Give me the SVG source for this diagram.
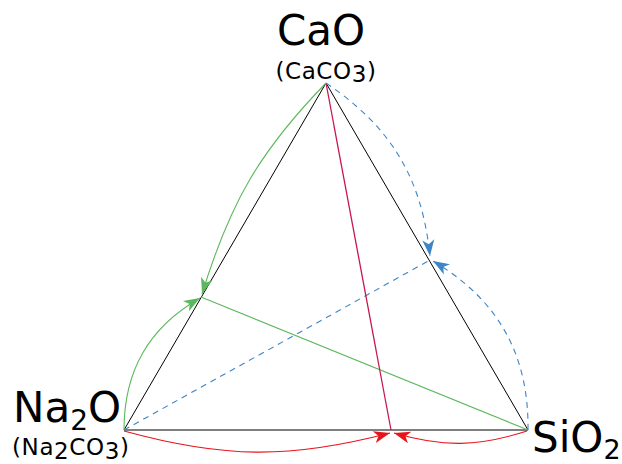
<svg xmlns="http://www.w3.org/2000/svg" width="622" height="464" viewBox="0 0 622 464">
<style>
.lbl{font-family:"DejaVu Sans","Liberation Sans",sans-serif;fill:#000}
.big{font-size:42px}
.small{font-size:23px;letter-spacing:0.6px}
.edge{fill:none;stroke:#000;stroke-width:1}
.g{fill:none;stroke:#5cb85c;stroke-width:1.1}
.b{fill:none;stroke:#3d85c6;stroke-width:1.1;stroke-dasharray:6,5}
.r{fill:none;stroke:#e8141c;stroke-width:1.1}
</style>
<defs>
<marker id="ag" markerUnits="userSpaceOnUse" orient="auto" markerWidth="20" markerHeight="20" refX="0" refY="0" viewBox="-15 -8 16 16" overflow="visible"><path d="M0,0 L-13,-4.8 L-9.5,0 L-13,4.8 Z" fill="#5cb85c"/></marker>
<marker id="ab" markerUnits="userSpaceOnUse" orient="auto" markerWidth="20" markerHeight="20" refX="0" refY="0" viewBox="-15 -8 16 16" overflow="visible"><path d="M0,0 L-13,-4.8 L-9.5,0 L-13,4.8 Z" fill="#3d85c6"/></marker>
<marker id="ar" markerUnits="userSpaceOnUse" orient="auto" markerWidth="20" markerHeight="20" refX="0" refY="0" viewBox="-15 -8 16 16" overflow="visible"><path d="M0,0 L-13,-4.8 L-9.5,0 L-13,4.8 Z" fill="#e8141c"/></marker>
</defs>
<g id="connectors">
<path class="edge" d="M326,83 L124,430 L528,430 Z"/>
<line x1="124" y1="430" x2="430" y2="260" class="b"/>
<line x1="201" y1="297" x2="528" y2="430" class="g"/>
<line x1="326" y1="83" x2="391" y2="430" stroke="#c8164f" stroke-width="1.3"/>
<path class="g" d="M326,83 C259,152 230,203 202,294" marker-end="url(#ag)"/>
<path class="g" d="M124,430 C124,370.6 148.6,327.8 200,298" marker-end="url(#ag)"/>
<path class="b" d="M326,83 C391.2,127 421.8,177.8 430,256" marker-end="url(#ab)"/>
<path class="b" d="M528,430 C528.9,354.4 498,299.6 433,261" marker-end="url(#ab)"/>
<path class="r" d="M124,431 C224.2,458.6 289.8,459.1 390,433" marker-end="url(#ar)"/>
<path class="r" d="M527,431 C477.4,446.9 443.6,447.4 394,433" marker-end="url(#ar)"/>
</g>
<g id="node-cao">
<text class="lbl big" x="321" y="45" text-anchor="middle">CaO</text>
<text class="lbl small" x="326" y="79" text-anchor="middle">(CaCO<tspan dy="3">3</tspan><tspan dy="-3">)</tspan></text>
</g>
<g id="node-na2o">
<text class="lbl big" x="13" y="422">Na<tspan font-size="28" dy="8">2</tspan><tspan dy="-8">O</tspan></text>
<text class="lbl small" x="12" y="455">(Na<tspan dy="4">2</tspan><tspan dy="-4">CO</tspan><tspan dy="4">3</tspan><tspan dy="-4">)</tspan></text>
</g>
<g id="node-sio2">
<text class="lbl big" x="532" y="452" font-size="41">SiO<tspan font-size="27" dy="7">2</tspan></text>
</g>
</svg>
